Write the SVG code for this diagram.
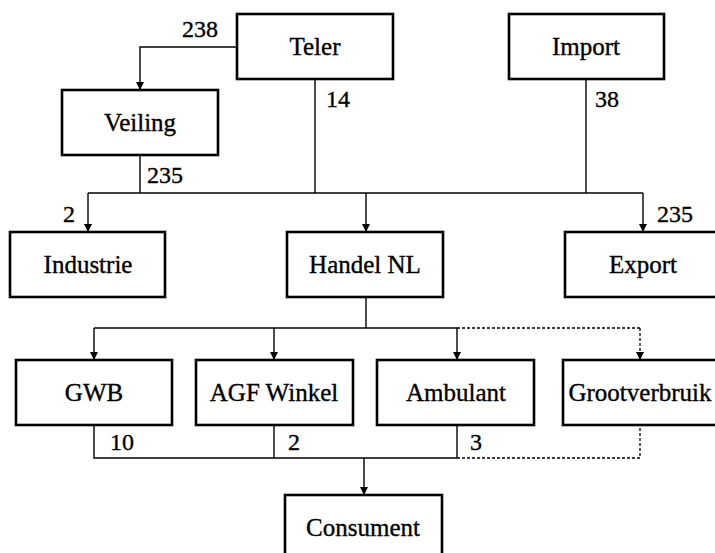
<svg xmlns="http://www.w3.org/2000/svg" width="715" height="553" viewBox="0 0 715 553">
<style>
.box{fill:#fff;stroke:#000;stroke-width:2.6}
.t{font-family:"Liberation Serif","Times New Roman",serif;font-size:25px;fill:#000;stroke:#000;stroke-width:0.35;text-anchor:middle}
.n{font-family:"Liberation Serif","Times New Roman",serif;font-size:24px;fill:#000;stroke:#000;stroke-width:0.35}
.c{fill:none;stroke:#000;stroke-width:1.4}
.d{fill:none;stroke:#000;stroke-width:1.3;stroke-dasharray:3,2}
</style>
<defs>
<marker id="ah" viewBox="0 0 8 8" refX="8" refY="4" markerWidth="8" markerHeight="8" markerUnits="userSpaceOnUse" orient="auto">
<path d="M0,0 L8,4 L0,8 Z" fill="#000"/>
</marker>
</defs>
<rect width="715" height="553" fill="#fff"/>
<g id="connectors">
<path class="c" d="M237,47 H140 V90" marker-end="url(#ah)"/>
<path class="c" d="M315,79 V193"/>
<path class="c" d="M140,155 V193"/>
<path class="c" d="M586,79 V193"/>
<path class="c" d="M88,193 H643"/>
<path class="c" d="M88,193 V232" marker-end="url(#ah)"/>
<path class="c" d="M366,193 V232" marker-end="url(#ah)"/>
<path class="c" d="M643,193 V232" marker-end="url(#ah)"/>
<path class="c" d="M366,297 V328"/>
<path class="c" d="M94,328 H457"/>
<path class="d" d="M457,328 H640"/>
<path class="c" d="M94,328 V360" marker-end="url(#ah)"/>
<path class="c" d="M274,328 V360" marker-end="url(#ah)"/>
<path class="c" d="M457,328 V360" marker-end="url(#ah)"/>
<path class="d" d="M640,328 V360" marker-end="url(#ah)"/>
<path class="c" d="M94,425 V458 H457"/>
<path class="c" d="M274,425 V458"/>
<path class="c" d="M457,425 V458"/>
<path class="d" d="M457,458 H640 V425"/>
<path class="c" d="M364,458 V495" marker-end="url(#ah)"/>
<text class="n" x="182" y="37">238</text>
<text class="n" x="326" y="107">14</text>
<text class="n" x="147" y="183">235</text>
<text class="n" x="595" y="107">38</text>
<text class="n" x="63" y="222">2</text>
<text class="n" x="657" y="222">235</text>
<text class="n" x="110" y="450">10</text>
<text class="n" x="288" y="450">2</text>
<text class="n" x="470" y="450">3</text>
</g>
<g id="teler"><rect class="box" x="237" y="14" width="156" height="65"/><text class="t" x="315" y="55">Teler</text></g>
<g id="import"><rect class="box" x="509" y="14" width="155" height="65"/><text class="t" x="586" y="55">Import</text></g>
<g id="veiling"><rect class="box" x="62" y="90" width="156" height="65"/><text class="t" x="140" y="131">Veiling</text></g>
<g id="industrie"><rect class="box" x="10" y="232" width="155" height="65"/><text class="t" x="88" y="273">Industrie</text></g>
<g id="handel"><rect class="box" x="287" y="232" width="156" height="65"/><text class="t" x="365" y="273">Handel NL</text></g>
<g id="export"><rect class="box" x="565" y="232" width="156" height="65"/><text class="t" x="643" y="273">Export</text></g>
<g id="gwb"><rect class="box" x="16" y="360" width="156" height="65"/><text class="t" x="94" y="401">GWB</text></g>
<g id="agf"><rect class="box" x="196" y="360" width="157" height="65"/><text class="t" x="274" y="401">AGF Winkel</text></g>
<g id="ambulant"><rect class="box" x="377" y="360" width="157" height="65"/><text class="t" x="456" y="401">Ambulant</text></g>
<g id="grootverbruik"><rect class="box" x="563" y="360" width="156" height="65"/><text class="t" x="640" y="401">Grootverbruik</text></g>
<g id="consument"><rect class="box" x="285" y="495" width="157" height="66"/><text class="t" x="363" y="536">Consument</text></g>
</svg>
